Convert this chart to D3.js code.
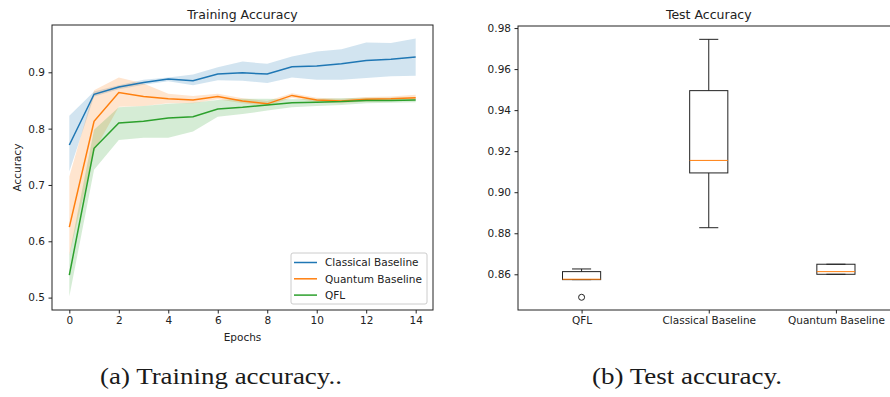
<!DOCTYPE html>
<html>
<head>
<meta charset="utf-8">
<script src="https://cdn.jsdelivr.net/npm/d3@7"></script>
<style>
    body { margin: 0; background: #fff; }
    text { font-family: "DejaVu Sans", sans-serif; fill: #222; }
    .caption { font-family: "Liberation Serif", serif; fill: #1a1a1a; }
</style>
</head>
<body>
<svg id="chart" width="890" height="397"></svg>
<script>
// 训练 曲线 数据
const epochs = [0, 1, 2, 3, 4, 5, 6, 7, 8, 9, 10, 11, 12, 13, 14];
const seriesNames = ['Classical Baseline', 'Quantum Baseline', 'QFL'];
const seriesColors = ['#1f77b4', '#ff7f0e', '#2ca02c'];

const classicalMean = [0.771, 0.861, 0.874, 0.882, 0.888, 0.885, 0.897, 0.899, 0.897, 0.910, 0.911, 0.915, 0.921, 0.923, 0.927];
const classicalHigh = [0.823, 0.866, 0.877, 0.887, 0.891, 0.896, 0.909, 0.919, 0.915, 0.928, 0.937, 0.941, 0.953, 0.952, 0.960];
const classicalLow  = [0.724, 0.857, 0.870, 0.878, 0.884, 0.877, 0.886, 0.885, 0.881, 0.891, 0.887, 0.887, 0.890, 0.893, 0.894];

const quantumMean = [0.625, 0.813, 0.864, 0.857, 0.853, 0.851, 0.857, 0.849, 0.844, 0.859, 0.851, 0.849, 0.852, 0.853, 0.855];
const quantumHigh = [0.715, 0.868, 0.891, 0.880, 0.862, 0.858, 0.862, 0.854, 0.849, 0.863, 0.855, 0.853, 0.856, 0.857, 0.860];
const quantumLow  = [0.575, 0.760, 0.839, 0.840, 0.845, 0.845, 0.852, 0.845, 0.840, 0.855, 0.847, 0.845, 0.848, 0.849, 0.851];

const qflMean = [0.540, 0.765, 0.810, 0.813, 0.819, 0.821, 0.835, 0.838, 0.842, 0.846, 0.847, 0.848, 0.850, 0.850, 0.851];
const qflHigh = [0.576, 0.798, 0.838, 0.840, 0.844, 0.846, 0.851, 0.853, 0.853, 0.852, 0.853, 0.854, 0.855, 0.855, 0.855];
const qflLow  = [0.502, 0.727, 0.780, 0.784, 0.784, 0.795, 0.821, 0.826, 0.832, 0.838, 0.840, 0.842, 0.845, 0.846, 0.847];

const trainXTicks = [0, 2, 4, 6, 8, 10, 12, 14];
const trainYTicks = [0.5, 0.6, 0.7, 0.8, 0.9];

// 测试 箱线图 数据
const boxCategories = ['QFL', 'Classical Baseline', 'Quantum Baseline'];
const boxWhiskerLow = [0.8574, 0.8827, 0.8600];
const boxQ1         = [0.8574, 0.9094, 0.8600];
const boxMedian     = [0.8576, 0.9155, 0.8613];
const boxQ3         = [0.8613, 0.9495, 0.8649];
const boxWhiskerHigh = [0.8626, 0.9745, 0.8649];
const boxOutliers   = [[0.8488], [], []];
const testYTicks = [0.86, 0.88, 0.90, 0.92, 0.94, 0.96, 0.98];

const svg = d3.select('#chart');
const spineColor = '#222';

// ---------- 左图 训练精度 ----------
const L = {left: 52, right: 433, top: 25, bottom: 310};
const xTrain = d3.scaleLinear().domain([-0.7, 14.7]).range([L.left, L.right]);
const yTrain = d3.scaleLinear().domain([0.478, 0.984]).range([L.bottom, L.top]);

const gTrain = svg.append('g');
const trainSeries = [
    {mean: classicalMean, low: classicalLow, high: classicalHigh},
    {mean: quantumMean, low: quantumLow, high: quantumHigh},
    {mean: qflMean, low: qflLow, high: qflHigh}
];

trainSeries.forEach(function (s, i) {
    let area = d3.area()
        .x(function (d, j) { return xTrain(epochs[j]); })
        .y0(function (d, j) { return yTrain(s.low[j]); })
        .y1(function (d, j) { return yTrain(s.high[j]); });
    gTrain.append('path')
        .attr('d', area(epochs))
        .attr('fill', seriesColors[i])
        .attr('fill-opacity', 0.2);
});
trainSeries.forEach(function (s, i) {
    let line = d3.line()
        .x(function (d, j) { return xTrain(epochs[j]); })
        .y(function (d) { return yTrain(d); });
    gTrain.append('path')
        .attr('d', line(s.mean))
        .attr('fill', 'none')
        .attr('stroke', seriesColors[i])
        .attr('stroke-width', 1.5);
});

// 坐标轴
let axXTrain = gTrain.append('g')
    .attr('transform', 'translate(0,' + L.bottom + ')')
    .call(d3.axisBottom(xTrain).tickValues(trainXTicks).tickSize(3.5).tickPadding(3.5).tickFormat(d3.format('d')));
let axYTrain = gTrain.append('g')
    .attr('transform', 'translate(' + L.left + ',0)')
    .call(d3.axisLeft(yTrain).tickValues(trainYTicks).tickSize(3.5).tickPadding(3.5).tickFormat(d3.format('.1f')));
[axXTrain, axYTrain].forEach(function (ax) {
    ax.select('.domain').remove();
    ax.selectAll('line').attr('stroke', spineColor);
    ax.selectAll('text').style('font-size', '10.5px').style('font-family', '"DejaVu Sans", sans-serif').attr('fill', '#222');
});
gTrain.append('rect')
    .attr('x', L.left).attr('y', L.top)
    .attr('width', L.right - L.left).attr('height', L.bottom - L.top)
    .attr('fill', 'none').attr('stroke', spineColor).attr('stroke-width', 1);

gTrain.append('text')
    .attr('x', (L.left + L.right) / 2).attr('y', 19)
    .attr('text-anchor', 'middle').style('font-size', '12.5px')
    .text('Training Accuracy');
gTrain.append('text')
    .attr('x', (L.left + L.right) / 2).attr('y', 341)
    .attr('text-anchor', 'middle').style('font-size', '10.5px')
    .text('Epochs');
gTrain.append('text')
    .attr('transform', 'translate(21,' + ((L.top + L.bottom) / 2) + ') rotate(-90)')
    .attr('text-anchor', 'middle').style('font-size', '10.5px')
    .text('Accuracy');

// 图例
let legend = gTrain.append('g').attr('transform', 'translate(291,253)');
legend.append('rect')
    .attr('width', 136).attr('height', 51).attr('rx', 2)
    .attr('fill', '#fff').attr('fill-opacity', 0.8)
    .attr('stroke', '#ccc');
seriesNames.forEach(function (name, i) {
    let yy = 9.5 + i * 16.3;
    legend.append('line')
        .attr('x1', 3).attr('x2', 26).attr('y1', yy).attr('y2', yy)
        .attr('stroke', seriesColors[i]).attr('stroke-width', 1.5);
    legend.append('text')
        .attr('x', 34).attr('y', yy + 3.8)
        .style('font-size', '10.5px')
        .text(name);
});

// ---------- 右图 测试精度 ----------
const R = {left: 518, right: 899.5, top: 26, bottom: 310};
const xTest = d3.scaleLinear().domain([0.5, 3.5]).range([R.left, R.right]);
const yTest = d3.scaleLinear().domain([0.8426, 0.981]).range([R.bottom, R.top]);
const xBand = d3.scalePoint().domain(boxCategories).range([xTest(1), xTest(3)]);

const gTest = svg.append('g');
const boxW = xTest(1.3) - xTest(1);
const capW = boxW / 2;

boxCategories.forEach(function (cat, i) {
    let cx = xBand(cat);
    // 须
    gTest.append('line')
        .attr('x1', cx).attr('x2', cx)
        .attr('y1', yTest(boxWhiskerLow[i])).attr('y2', yTest(boxQ1[i]))
        .attr('stroke', spineColor);
    gTest.append('line')
        .attr('x1', cx).attr('x2', cx)
        .attr('y1', yTest(boxQ3[i])).attr('y2', yTest(boxWhiskerHigh[i]))
        .attr('stroke', spineColor);
    [boxWhiskerLow[i], boxWhiskerHigh[i]].forEach(function (v) {
        gTest.append('line')
            .attr('x1', cx - capW / 2).attr('x2', cx + capW / 2)
            .attr('y1', yTest(v)).attr('y2', yTest(v))
            .attr('stroke', spineColor);
    });
    // 箱体
    gTest.append('rect')
        .attr('x', cx - boxW / 2).attr('y', yTest(boxQ3[i]))
        .attr('width', boxW).attr('height', yTest(boxQ1[i]) - yTest(boxQ3[i]))
        .attr('fill', 'none').attr('stroke', spineColor);
    gTest.append('line')
        .attr('x1', cx - boxW / 2).attr('x2', cx + boxW / 2)
        .attr('y1', yTest(boxMedian[i])).attr('y2', yTest(boxMedian[i]))
        .attr('stroke', '#ff7f0e');
    // 异常点
    boxOutliers[i].forEach(function (v) {
        gTest.append('circle')
            .attr('cx', cx).attr('cy', yTest(v)).attr('r', 3)
            .attr('fill', 'none').attr('stroke', spineColor);
    });
});

let axXTest = gTest.append('g')
    .attr('transform', 'translate(0,' + R.bottom + ')')
    .call(d3.axisBottom(xBand).tickSize(3.5).tickPadding(3.5));
let axYTest = gTest.append('g')
    .attr('transform', 'translate(' + R.left + ',0)')
    .call(d3.axisLeft(yTest).tickValues(testYTicks).tickSize(3.5).tickPadding(3.5).tickFormat(d3.format('.2f')));
[axXTest, axYTest].forEach(function (ax) {
    ax.select('.domain').remove();
    ax.selectAll('line').attr('stroke', spineColor);
    ax.selectAll('text').style('font-size', '10.5px').style('font-family', '"DejaVu Sans", sans-serif').attr('fill', '#222');
});
gTest.append('rect')
    .attr('x', R.left).attr('y', R.top)
    .attr('width', R.right - R.left).attr('height', R.bottom - R.top)
    .attr('fill', 'none').attr('stroke', spineColor).attr('stroke-width', 1);
gTest.append('text')
    .attr('x', xBand('Classical Baseline')).attr('y', 19)
    .attr('text-anchor', 'middle').style('font-size', '12.5px')
    .text('Test Accuracy');

// ---------- 图注 ----------
svg.append('text').attr('class', 'caption')
    .attr('x', 100).attr('y', 384)
    .attr('textLength', 242).attr('lengthAdjust', 'spacingAndGlyphs')
    .style('font-size', '23px')
    .text('(a) Training accuracy..');
svg.append('text').attr('class', 'caption')
    .attr('x', 592).attr('y', 384)
    .attr('textLength', 190).attr('lengthAdjust', 'spacingAndGlyphs')
    .style('font-size', '23px')
    .text('(b) Test accuracy.');
</script>
</body>
</html>
